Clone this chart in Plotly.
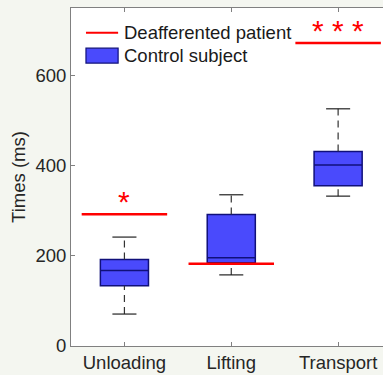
import plotly.graph_objects as go

categories = ["Unloading", "Lifting", "Transport"]
positions = [1, 2, 3]
ctrl_lower = [71, 158, 333]
ctrl_q1 = [134, 185, 356]
ctrl_median = [168, 196, 402]
ctrl_q3 = [192, 292, 432]
ctrl_upper = [242, 336, 527]
patient = [293, 183, 673]
stars = ["*", "", "* * *"]
y_ticks = [0, 200, 400, 600]

FONT = "Liberation Sans, Arial, sans-serif"
BOX_W = 0.45
CAP_HALF = 0.1125
LINE_HALF = 0.4

fig = go.Figure()

# boxes (whiskers drawn separately as dashed lines)
fig.add_trace(go.Box(
    x=positions, q1=ctrl_q1, median=ctrl_median, q3=ctrl_q3,
    lowerfence=ctrl_q1, upperfence=ctrl_q3,
    width=BOX_W, fillcolor="rgb(74,74,252)",
    line=dict(color="#10107a", width=1.5), whiskerwidth=0,
    showlegend=False, hoverinfo="skip", boxpoints=False,
))

for p, lo, q1, q3, hi in zip(positions, ctrl_lower, ctrl_q1, ctrl_q3, ctrl_upper):
    fig.add_trace(go.Scatter(x=[p, p], y=[q3, hi], mode="lines",
                             line=dict(color="#333333", width=1.2, dash="7px,5px"),
                             showlegend=False, hoverinfo="skip"))
    fig.add_trace(go.Scatter(x=[p, p], y=[lo, q1], mode="lines",
                             line=dict(color="#333333", width=1.2, dash="7px,5px"),
                             showlegend=False, hoverinfo="skip"))
    for v in (lo, hi):
        fig.add_trace(go.Scatter(x=[p - CAP_HALF, p + CAP_HALF], y=[v, v], mode="lines",
                                 line=dict(color="#222222", width=1.2),
                                 showlegend=False, hoverinfo="skip"))

for p, v in zip(positions, patient):
    fig.add_trace(go.Scatter(x=[p - LINE_HALF, p + LINE_HALF], y=[v, v], mode="lines",
                             line=dict(color="#ff0000", width=2.5),
                             showlegend=False, hoverinfo="skip"))

for p, v, s in zip(positions, patient, stars):
    if s:
        fig.add_annotation(x=p, y=v, text=s, showarrow=False, xanchor="center",
                           yanchor="bottom", yshift=-6,
                           font=dict(family=FONT, size=30, color="#ff0000"))

# manual legend
fig.add_shape(type="line", xref="paper", yref="paper", x0=0.048, x1=0.151, y0=0.927, y1=0.927,
              line=dict(color="#ff0000", width=2))
fig.add_shape(type="rect", xref="paper", yref="paper", x0=0.048, x1=0.151, y0=0.837, y1=0.881,
              fillcolor="rgb(74,74,252)", line=dict(color="#10107a", width=1.2))
fig.add_annotation(xref="paper", yref="paper", x=0.165, y=0.927, text="Deafferented patient",
                   showarrow=False, xanchor="left", yanchor="middle",
                   font=dict(family=FONT, size=18.5, color="#1a1a1a"))
fig.add_annotation(xref="paper", yref="paper", x=0.165, y=0.859, text="Control subject",
                   showarrow=False, xanchor="left", yanchor="middle",
                   font=dict(family=FONT, size=18.5, color="#1a1a1a"))

fig.update_layout(
    width=383, height=375,
    margin=dict(l=71, r=0, t=8, b=29, autoexpand=False),
    paper_bgcolor="#f4f6f0", plot_bgcolor="#ffffff",
    font=dict(family=FONT, size=18.5, color="#262626"),
    showlegend=False,
)
fig.update_xaxes(
    range=[0.5, 3.42], tickmode="array", tickvals=positions, ticktext=categories,
    ticks="inside", ticklen=4, tickcolor="#808080", showline=True, linecolor="#808080",
    linewidth=1, mirror="ticks", showgrid=False, zeroline=False, automargin=False,
)
fig.update_yaxes(
    range=[0, 751], tickmode="array", tickvals=y_ticks,
    ticks="inside", ticklen=4, tickcolor="#808080", showline=True, linecolor="#808080",
    linewidth=1, mirror=False, showgrid=False, zeroline=False, automargin=False,
    title=dict(text="Times (ms)", font=dict(size=18.5), standoff=4),
)

fig.write_html("out.html", config={"displayModeBar": False},
               post_script="document.body.style.margin='0';")
